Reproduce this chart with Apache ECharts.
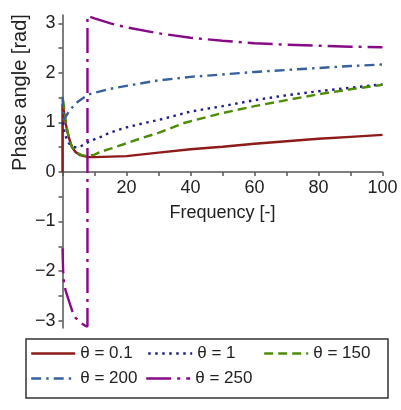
<!DOCTYPE html>
<html>
<head>
<meta charset="utf-8">
<script src="https://cdn.jsdelivr.net/npm/echarts@6/dist/echarts.min.js"></script>
<style>html,body{margin:0;padding:0;background:#fff}#c{width:401px;height:410px}</style>
</head>
<body>
<div id="c"></div>
<script>
// Data
var legendNames = ['θ = 0.1', 'θ = 1', 'θ = 150', 'θ = 200', 'θ = 250'];

var freqA = [0, 0, 0.3, 0.6, 1, 1.5, 2, 2.5, 3, 4, 5.5, 8, 10, 15, 20, 30, 40, 50, 60, 70, 80, 90, 100];
var phaseA = [0, 1.38, 1.28, 1.15, 0.98, 0.82, 0.7, 0.58, 0.5, 0.41, 0.34, 0.30, 0.30, 0.31, 0.32, 0.39, 0.46, 0.51, 0.57, 0.62, 0.67, 0.71, 0.75];

var freqB = [0.2, 0.5, 1, 2, 3, 4, 5, 6, 8, 10, 12, 15, 20, 25, 30, 40, 50, 60, 70, 80, 90, 100];
var phaseB = [1.0, 0.85, 0.72, 0.58, 0.52, 0.5, 0.5, 0.53, 0.6, 0.66, 0.71, 0.8, 0.9, 0.98, 1.05, 1.22, 1.33, 1.45, 1.55, 1.63, 1.7, 1.77];

var freqC = [0.2, 0.5, 1, 1.5, 2, 3, 4, 5, 6, 8, 10, 12, 15, 20, 25, 30, 38, 50, 60, 70, 80, 90, 100];
var phaseC = [1.45, 1.3, 1.05, 0.85, 0.7, 0.5, 0.42, 0.37, 0.34, 0.32, 0.35, 0.41, 0.47, 0.58, 0.69, 0.79, 0.99, 1.19, 1.33, 1.45, 1.57, 1.67, 1.76];

var freqD = [0, 0.3, 1, 2, 3, 5, 8, 10, 15, 20, 30, 40, 50, 60, 70, 80, 90, 100];
var phaseD = [1.52, 1.05, 1.12, 1.22, 1.3, 1.43, 1.56, 1.6, 1.68, 1.74, 1.85, 1.92, 1.97, 2.02, 2.06, 2.1, 2.14, 2.17];

var freqE = [0, 0.2, 0.5, 1, 2, 3, 4, 5, 6, 7, 7.8, 7.8, 10, 15, 20, 30, 40, 50, 60, 70, 80, 90, 100];
var phaseE = [-1.54, -2.0, -2.25, -2.4, -2.6, -2.8, -2.94, -3.0, -3.06, -3.1, -3.12, 3.15, 3.1, 3.0, 2.92, 2.8, 2.71, 2.65, 2.6, 2.57, 2.55, 2.53, 2.52];

var yTickValues = [-3, -2.5, -2, -1.5, -1, -0.5, 0, 0.5, 1, 1.5, 2, 2.5, 3];
var yLabelValues = [-3, -2, -1, 0, 1, 2, 3];

function pairs(xs, ys) { return xs.map(function (x, i) { return [x, ys[i]]; }); }

var colors = ['#8e1a1a', '#1e1e8c', '#4e8c08', '#37619c', '#870a87'];
var dashes = ['solid', [2.5, 4.5], [9, 5], [10, 5, 2.5, 5], [25, 6, 3, 6]];
var datasets = [pairs(freqA, phaseA), pairs(freqB, phaseB), pairs(freqC, phaseC), pairs(freqD, phaseD), pairs(freqE, phaseE)];

var font = '"Liberation Sans", Arial, sans-serif';
var legendPos = [[30, 345], [147, 345], [263, 345], [30, 370], [145, 370]];

var series = legendNames.map(function (n, i) {
  return {
    name: n, type: 'line', data: datasets[i], symbol: 'none', showSymbol: false,
    lineStyle: { color: colors[i], width: 2.4, type: dashes[i] },
    itemStyle: { color: colors[i] },
    clip: false, z: 2 + i
  };
});

var legends = legendNames.map(function (n, i) {
  return {
    data: [n], left: legendPos[i][0], top: legendPos[i][1], padding: 0,
    itemWidth: 44, itemHeight: 14,
    itemStyle: { opacity: 0 },
    textStyle: { fontFamily: font, fontSize: 17, color: '#222' },
    lineStyle: { width: 2.4 }
  };
});

var chart = echarts.init(document.getElementById('c'), null, { renderer: 'canvas' });
chart.setOption({
  animation: false,
  backgroundColor: '#fff',
  grid: { left: 62.5, right: 18.5, top: 15, height: 313 },
  legend: legends,
  xAxis: {
    type: 'value', min: 0, max: 100, interval: 10, offset: -156,
    name: 'Frequency [-]', nameLocation: 'middle', nameGap: 32,
    nameTextStyle: { fontFamily: font, fontSize: 18, color: '#222' },
    axisLine: { onZero: false, lineStyle: { color: '#555', width: 1.5 } },
    axisTick: { show: true, length: 4, lineStyle: { color: '#555', width: 1.5 } },
    axisLabel: {
      fontFamily: font, fontSize: 18, color: '#222', margin: 7,
      formatter: function (v) { return (v > 0 && v % 20 === 0) ? String(v) : ''; }
    },
    splitLine: { show: false }
  },
  yAxis: {
    type: 'value', min: -3.15, max: 3.17,
    axisLine: { onZero: false, lineStyle: { color: '#555', width: 1.5 } },
    axisTick: { show: true, length: 4, customValues: yTickValues, lineStyle: { color: '#555', width: 1.5 } },
    axisLabel: {
      fontFamily: font, fontSize: 18, color: '#222', margin: 7,
      customValues: yLabelValues,
      formatter: function (v) { return v < 0 ? '\u2212' + Math.abs(v) : String(v); }
    },
    splitLine: { show: false }
  },
  graphic: [
    {
      type: 'text', x: 20, y: 92.5, rotation: Math.PI / 2,
      style: { text: 'Phase angle [rad]', font: '20px ' + font, fill: '#222', align: 'center', verticalAlign: 'middle' }
    },
    {
      type: 'rect', shape: { x: 26, y: 339, width: 362, height: 59 },
      style: { fill: 'none', stroke: '#333', lineWidth: 1.5 }, z: -1
    }
  ],
  series: series
});
</script>
</body>
</html>
